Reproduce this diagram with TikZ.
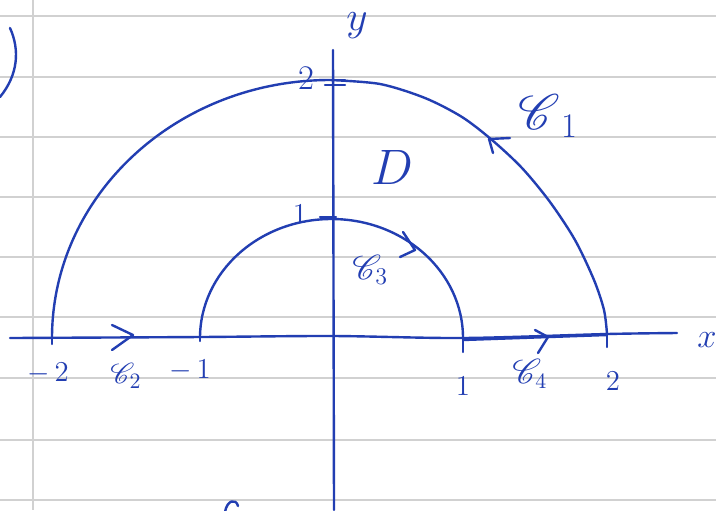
\documentclass[tikz,border=0pt]{standalone}
\usepackage{amsmath,mathrsfs}
\usepackage{tikz}
\definecolor{ink}{RGB}{34,62,178}
\tikzset{
  stroke/.style={draw=ink, line width=1.2pt, line cap=round, line join=round},
  rule/.style={draw=black!18, line width=0.8pt},
  lbl/.style={text=ink, inner sep=0pt},
  numfont/.style={font=\fontsize{15}{17}\selectfont},
}

\begin{document}
\begin{tikzpicture}[x=0.5pt, y=-0.5pt]
  \fill[white] (0,0) rectangle (716,510);
  \useasboundingbox (0,0) rectangle (716,510);
  % ---------------------------------------------------------------- ruled paper
  \foreach \ry in {16,77,137,197,257,317,378,440,500}
    \draw[rule] (0,\ry) -- (716,\ry);
  \draw[rule] (33,0) -- (33,510);
  % ---------------------------------------------------------------- axes and ticks
  \draw[stroke] plot[smooth, tension=0.5] coordinates {(10,338) (200,337) (333,336) (463,338) (607,334) (677,333)};
  \draw[stroke] (463,340) -- (607,335);
  \draw[stroke] (333,50) -- (334,510);
  \draw[stroke] (52,338) -- (52,344);
  \draw[stroke] (200,338) -- (200,341);
  \draw[stroke] (463,338) -- (463,352);
  \draw[stroke] (607,334) -- (607,347);
  \draw[stroke] (325,80) -- (345,80);
  \draw[stroke] (325,85) -- (345,85);
  \draw[stroke] (320,217) -- (336,217);
  % ---------------------------------------------------------------- outer curve C1 and inner curve C3
  \draw[stroke] (52,338) arc[start angle=180, end angle=270, x radius=278, y radius=258]
    plot[smooth] coordinates {(330,80) (380,84) (425,98) (462,117) (492,140) (522,168) (550,202)
    (575,240) (594,280) (604,310) (607,334)};
  \draw[stroke] (200,338) arc[start angle=180, end angle=360, x radius=131.5, y radius=119];
  % ---------------------------------------------------------------- direction marks
  \draw[stroke] (510,138) -- (489,139) -- (493,153);
  \draw[stroke] (403,232) -- (415,250) -- (400,257);
  \draw[stroke] (112,325) -- (133,335) -- (112,350);
  \draw[stroke] (535,330) -- (548,337) -- (538,353);
  % ---------------------------------------------------------------- labels
  \node[lbl, font=\fontsize{22}{24}\selectfont] (ylab) at (357,26) {$y$};
  \node[lbl, font=\fontsize{17}{19}\selectfont, anchor=west] (xlab) at (697,340) {$x$};
  \node[lbl, font=\fontsize{23}{26}\selectfont] (dom) at (392,167) {$D$};
  \node[lbl, font=\fontsize{18}{20}\selectfont] (ytwo) at (306,78) {$2$};
  \node[lbl, numfont] (yone) at (300,214) {$1$};
  \node[lbl, numfont] (mtwo) at (48,373) {$-\,2$};
  \node[lbl, numfont] (mone) at (190,370) {$-\,1$};
  \node[lbl, numfont] (pone) at (463,386) {$1$};
  \node[lbl, numfont] (ptwo) at (613,381) {$2$};
  \node[lbl, font=\fontsize{25}{28}\selectfont, anchor=west] (cone) at (518,116) {$\mathscr{C}_{\;1}$};
  \node[lbl, font=\fontsize{15}{17}\selectfont, anchor=west] (ctwo) at (110,376) {$\mathscr{C}_{2}$};
  \node[lbl, font=\fontsize{18}{20}\selectfont, anchor=west] (cthree) at (352,270) {$\mathscr{C}_{3}$};
  \node[lbl, font=\fontsize{16}{18}\selectfont, anchor=west] (cfour) at (512,374) {$\mathscr{C}_{4}$};
  % ---------------------------------------------------------------- strokes from the neighbouring lines
  \draw[stroke] (10,28) .. controls (20,50) and (18,75) .. (0,97);
  \draw[stroke] (225,512) .. controls (227,500) and (236,498) .. (238,506);
\end{tikzpicture}
\end{document}
